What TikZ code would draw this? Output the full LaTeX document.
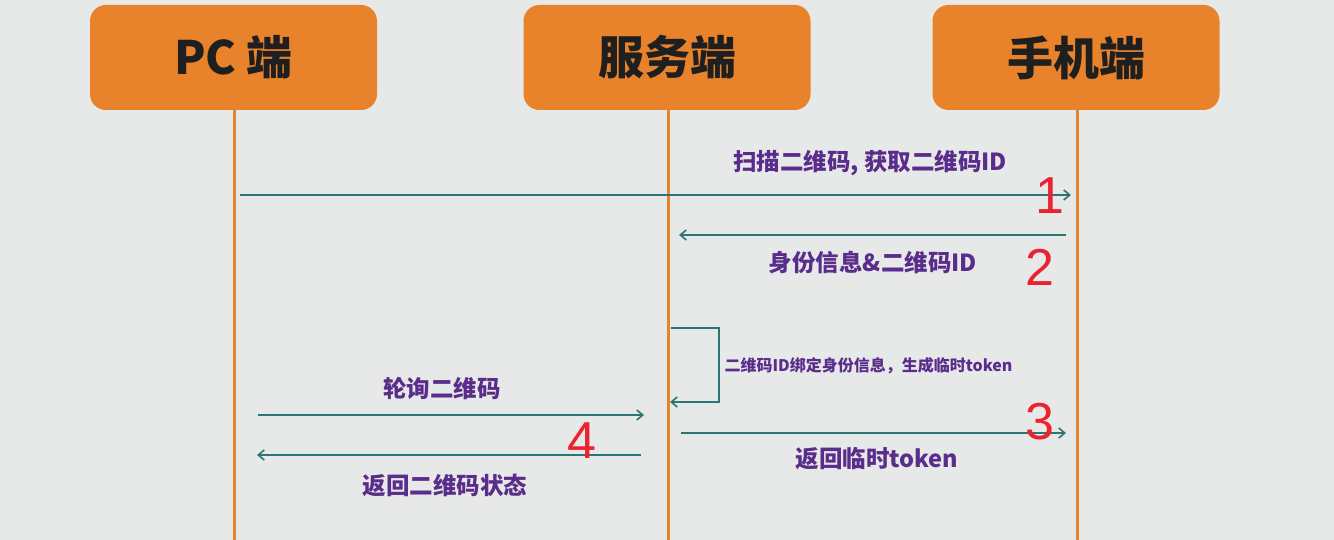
\documentclass[tikz,border=0pt]{standalone}
\usepackage{fontspec}
\setmainfont{Liberation Sans}
\newfontfamily\cjk{Noto Sans CJK SC}
\usetikzlibrary{arrows.meta}
\definecolor{bgc}{HTML}{E6E9E8}
\definecolor{orng}{HTML}{E8832B}
\definecolor{teal2}{HTML}{2D7474}
\definecolor{purp}{HTML}{5A2D8C}
\definecolor{redn}{HTML}{EC2230}
\tikzset{
  actor/.style={fill=orng, draw=none, rounded corners=16pt, minimum width=287pt, minimum height=105pt, font=\cjk\bfseries\fontsize{46}{48}\selectfont, text=black!88},
  life/.style={draw=orng, line width=3pt},
  msg/.style={draw=teal2, line width=2pt, -{Straight Barb[length=6pt,width=10pt,line width=1.6pt]}},
  lbl/.style={text=purp, font=\cjk\bfseries\fontsize{23.5}{25}\selectfont},
  slbl/.style={text=purp, font=\cjk\bfseries\fontsize{16}{18}\selectfont, anchor=west},
  num/.style={text=redn, font=\fontsize{52}{54}\selectfont}
}
\begin{document}
\begin{tikzpicture}[x=1pt,y=-1pt]
\useasboundingbox (0,0) rectangle (1334,540);
\fill[bgc] (0,0) rectangle (1334,540);
% lifelines
\coordinate (pcb) at (234,540);
\coordinate (svb) at (668,540);
\coordinate (phb) at (1077,540);
\draw[life] (234,108) -- (pcb);
\draw[life] (668,108) -- (svb);
\draw[life] (1077,108) -- (phb);
% actors
\node[actor] (pc) at (233.5,57.5) {PC 端};
\node[actor] (sv) at (667,57.5) {服务端};
\node[actor] (ph) at (1076,57.5) {手机端};
% message 1
\coordinate (m1a) at (240,195);
\coordinate (m1b) at (1071,195);
\draw[msg] (m1a) -- (m1b);
\node[lbl] (l1) at (870,163) {扫描二维码, 获取二维码ID};
\node[num] (n1) at (1050,196) {1};
% message 2
\coordinate (m2a) at (1066,235);
\coordinate (m2b) at (679,235);
\draw[msg] (m2a) -- (m2b);
\node[lbl] (l2) at (873,263) {身份信息\&二维码ID};
\node[num] (n2) at (1040,267) {2};
% self loop
\coordinate (s1) at (671,328);
\coordinate (s2) at (719,328);
\coordinate (s3) at (719,402);
\coordinate (s4) at (670,402);
\draw[msg] (s1) -- (s2) -- (s3) -- (s4);
\node[slbl] (ls) at (721,366) {二维码ID绑定身份信息，生成临时token};
% polling
\coordinate (p1) at (258,415);
\coordinate (p2) at (644,415);
\draw[msg] (p1) -- (p2);
\node[lbl] (lp) at (442,389) {轮询二维码};
% return status
\coordinate (r1) at (641,455);
\coordinate (r2) at (257,455);
\draw[msg] (r1) -- (r2);
\node[lbl] (lr) at (445,485) {返回二维码状态};
\node[num] (n4) at (582,441) {4};
% message 3
\coordinate (t1) at (681,433);
\coordinate (t2) at (1066,433);
\draw[msg] (t1) -- (t2);
\node[lbl] (lt) at (877,459) {返回临时token};
\node[num] (n3) at (1040,422) {3};
\end{tikzpicture}
\end{document}
